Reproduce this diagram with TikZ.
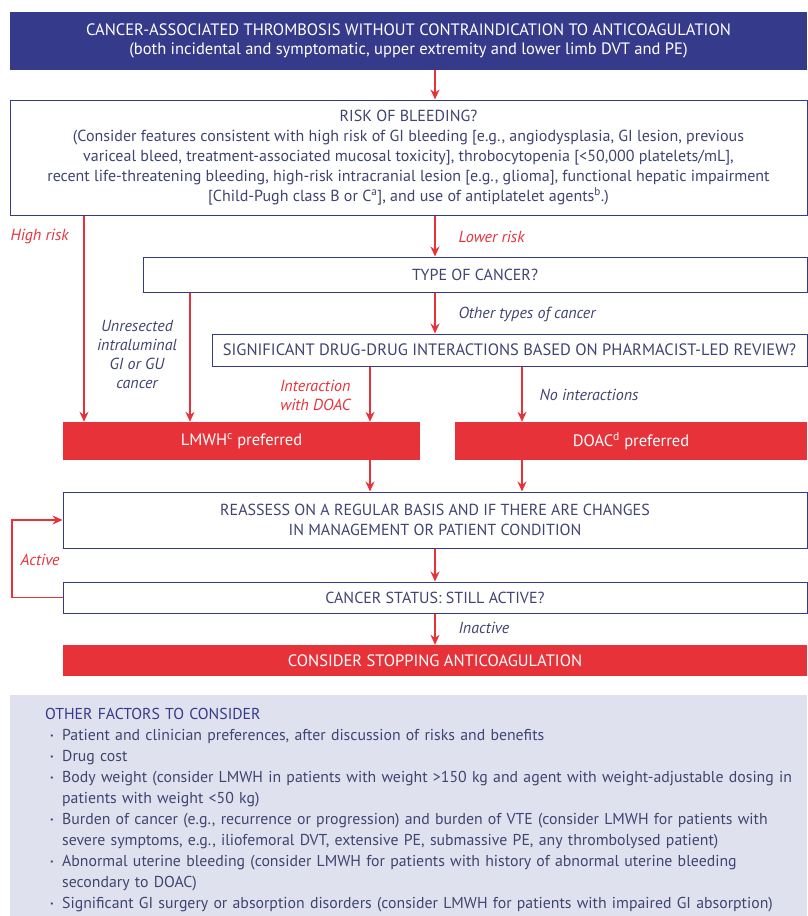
\documentclass[tikz,border=0pt]{standalone}
\usepackage{fontspec}
\setmainfont{PT Sans}
\usetikzlibrary{arrows.meta,positioning}
\definecolor{navy}{RGB}{54,58,138}
\definecolor{ink}{RGB}{64,68,112}
\definecolor{flagred}{RGB}{232,50,58}
\definecolor{panel}{RGB}{223,226,238}
\newcommand{\factitem}{\par\noindent\hangindent=17pt\hangafter=1\hbox to 17pt{\hspace{5pt}\raisebox{1.5pt}{\footnotesize\textbullet}\hfil}}
\newcommand{\factbreak}{\hfil\break}
\begin{document}
\begin{tikzpicture}[x=1pt,y=-1pt,
    box/.style={draw=navy, line width=1pt, fill=white, text=ink, align=center, inner sep=0pt, font=\fontsize{16}{20}\selectfont},
    hot/.style={fill=flagred, text=white, inner sep=0pt, font=\fontsize{16.5}{20}\selectfont},
    flow/.style={draw=flagred, line width=1.4pt, -{Stealth[length=10pt,width=9pt]}},
    lab/.style={text=ink, font=\fontsize{16}{19}\selectfont\itshape},
    redlab/.style={lab, text=flagred}]
      \useasboundingbox (0,0) rectangle (807,916);

      % columns of the arrows
      \coordinate (mid) at (435,0);
      \coordinate (hi) at (84,0);
      \coordinate (gi) at (190,0);
      \coordinate (dd) at (370,0);
      \coordinate (no) at (522,0);
      \coordinate (loop) at (12,0);

      \node[fill=navy, text=white, align=center, minimum width=797pt, minimum height=58pt, inner sep=0pt, font=\fontsize{16.5}{19.5}\selectfont] (start) at (408.5,41)
        {CANCER-ASSOCIATED THROMBOSIS WITHOUT CONTRAINDICATION TO ANTICOAGULATION\\
         (both incidental and symptomatic, upper extremity and lower limb DVT and PE)};
      \node[box, minimum width=797pt, minimum height=115pt] (risk) at (408.5,157.5)
        {RISK OF BLEEDING?\\
         (Consider features consistent with high risk of GI bleeding [e.g., angiodysplasia, GI lesion, previous\\
         variceal bleed, treatment-associated mucosal toxicity], throbocytopenia [<50,000 platelets/mL],\\
         recent life-threatening bleeding, high-risk intracranial lesion [e.g., glioma], functional hepatic impairment\\
         {[}Child-Pugh class B or C\textsuperscript{a}], and use of antiplatelet agents\textsuperscript{b}.)};
      \node[box, minimum width=664pt, minimum height=35pt] (type) at (475,274.5) {TYPE OF CANCER?};
      \node[box, minimum width=595pt, minimum height=32pt, font=\fontsize{16.5}{20}\selectfont] (drug) at (509.5,350)
        {SIGNIFICANT DRUG-DRUG INTERACTIONS BASED ON PHARMACIST-LED REVIEW?};
      \node[hot, minimum width=357pt, minimum height=38pt] (lmwh) at (241.5,441) {LMWH\textsuperscript{c} preferred};
      \node[hot, minimum width=352pt, minimum height=38pt] (doac) at (631,441) {DOAC\textsuperscript{d} preferred};
      \node[box, minimum width=744pt, minimum height=56pt] (reassess) at (435,520)
        {REASSESS ON A REGULAR BASIS AND IF THERE ARE CHANGES\\
         IN MANAGEMENT OR PATIENT CONDITION};
      \node[box, minimum width=744pt, minimum height=31pt] (status) at (435,597.5) {CANCER STATUS: STILL ACTIVE?};
      \node[hot, minimum width=744pt, minimum height=31pt] (stop) at (435,660.5) {CONSIDER STOPPING ANTICOAGULATION};

      \node[fill=panel, minimum width=797pt, minimum height=221pt, inner sep=0pt] (factors) at (408.5,805.5) {};
      \node[anchor=north west, text=ink, inner sep=0pt, text width=760pt, font=\fontsize{15.8}{21}\selectfont] (factlist) at (45,708)
        {\noindent{\color{navy}OTHER FACTORS TO CONSIDER}
         \factitem Patient and clinician preferences, after discussion of risks and benefits
         \factitem Drug cost
         \factitem Body weight (consider LMWH in patients with weight >150 kg and agent with weight-adjustable dosing in\factbreak
         patients with weight <50 kg)
         \factitem Burden of cancer (e.g., recurrence or progression) and burden of VTE (consider LMWH for patients with\factbreak
         severe symptoms, e.g., iliofemoral DVT, extensive PE, submassive PE, any thrombolysed patient)
         \factitem Abnormal uterine bleeding (consider LMWH for patients with history of abnormal uterine bleeding\factbreak
         secondary to DOAC)
         \factitem Significant GI surgery or absorption disorders (consider LMWH for patients with impaired GI absorption)\par};

      % branch labels
      \node[redlab, anchor=west] (lhigh) at (7,237) {High risk};
      \node[redlab, anchor=west] (llow) at (455,237) {Lower risk};
      \node[lab, anchor=west] (lother) at (455,314) {Other types of cancer};
      \node[lab, align=center] (lgi) at (137,354.5) {Unresected\\intraluminal\\GI or GU\\cancer};
      \node[redlab, align=right, anchor=east] (ldoac) at (354,395) {Interaction\\with DOAC};
      \node[lab, anchor=west] (lnone) at (536,395) {No interactions};
      \node[redlab, anchor=west] (lactive) at (17,560) {Active};
      \node[lab, anchor=west] (linactive) at (455,628) {Inactive};

      \draw[flow] (start.south -| mid) -- (risk.north -| mid);
      \draw[flow] (risk.south -| hi) -- (lmwh.north -| hi);
      \draw[flow] (risk.south -| mid) -- (type.north -| mid);
      \draw[flow] (type.south -| gi) -- (lmwh.north -| gi);
      \draw[flow] (type.south -| mid) -- (drug.north -| mid);
      \draw[flow] (drug.south -| dd) -- (lmwh.north -| dd);
      \draw[flow] (drug.south -| no) -- (doac.north -| no);
      \draw[flow] (lmwh.south -| dd) -- (reassess.north -| dd);
      \draw[flow] (doac.south -| no) -- (reassess.north -| no);
      \draw[flow] (reassess.south -| mid) -- (status.north -| mid);
      \draw[flow] (status.west) -- (status.west -| loop) |- (reassess.west);
      \draw[flow] (status.south -| mid) -- (stop.north -| mid);
\end{tikzpicture}
\end{document}
